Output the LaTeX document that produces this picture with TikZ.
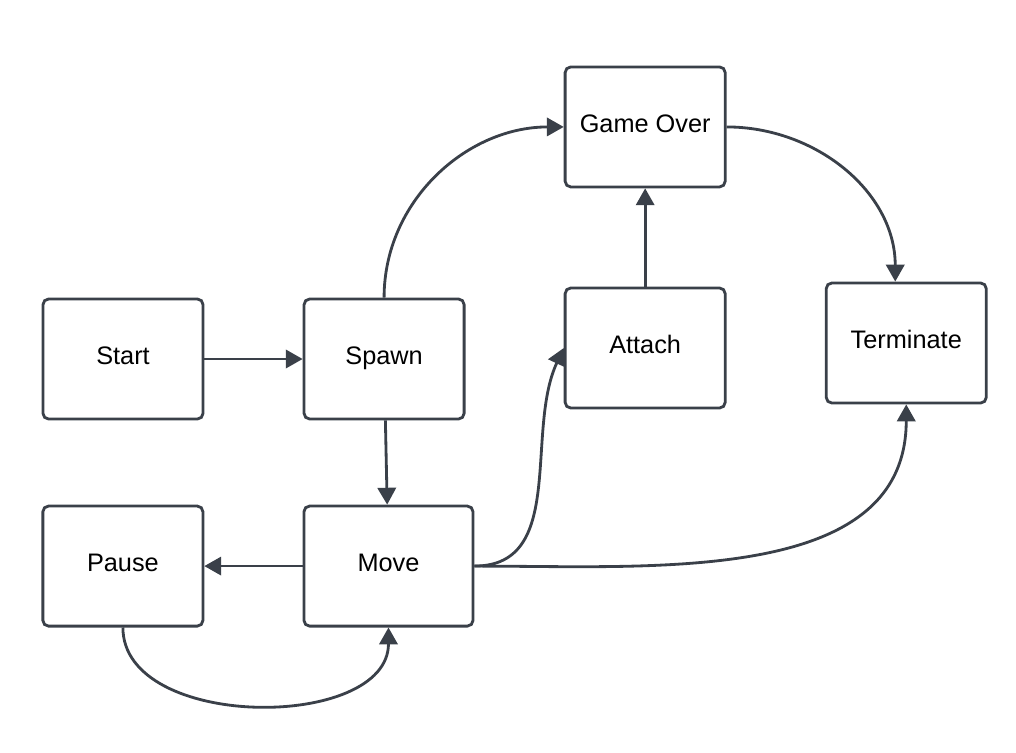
\documentclass[tikz,border=0pt]{standalone}
\usepackage{fontspec}
\setmainfont{Liberation Sans}
\usepackage{xcolor}
\usepackage{tikz}
\usetikzlibrary{positioning, arrows.meta}

\definecolor{edgegray}{HTML}{3A4049}

\begin{document}
\begin{tikzpicture}[
 x=0.025cm, y=-0.025cm,
 node distance=2.105cm and 2.455cm,
 state/.style={rectangle, rounded corners=4pt, draw=edgegray, fill=white,
   line width=2pt, minimum width=4cm, minimum height=3cm,
   text height=13pt, text depth=5.6pt,
   align=center, font=\fontsize{18}{22}\selectfont},
 flow/.style={-{Triangle[length=12pt, width=13pt]}, line width=2pt, draw=edgegray}
]
\useasboundingbox (0,0) rectangle (1016,752);
\node[state] (start) at (123,359) {Start};
\node[state] (spawn) [right=of start] {Spawn};
\node[state, minimum width=4.225cm] (move) [below=of spawn, xshift=0.11cm] {Move};
\node[state] (pause) [left=of move] {Pause};
\node[state] (attach) [right=of spawn, yshift=0.275cm] {Attach};
\node[state] (gameover) [above=2.455cm of attach] {Game Over};
\node[state] (terminate) [right=of attach, yshift=0.125cm] {Terminate};
% straight links
\draw[flow] (start) -- (spawn);
\draw[flow] (spawn) -- (move);
\draw[flow] (move) -- (pause);
\draw[flow] (attach) -- (gameover);
% curved links
\draw[flow] (spawn.north) to[out=90, in=180] (gameover.west);
\draw[flow] (gameover.east) to[out=0, in=90] ([xshift=-0.275cm]terminate.north);
\draw[flow] (move.east) to[out=0, in=245] (attach.west);
\draw[flow] (move.east) to[out=0, in=270] (terminate.south);
\draw[flow] (pause.south) to[out=270, in=270] (move.south);
\end{tikzpicture}
\end{document}
